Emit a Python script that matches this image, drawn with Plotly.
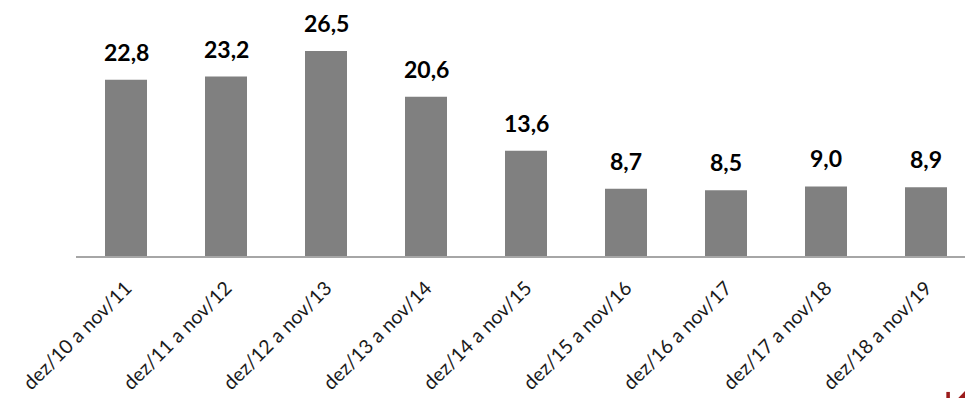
import plotly.graph_objects as go

categories = ["dez/10 a nov/11", "dez/11 a nov/12", "dez/12 a nov/13", "dez/13 a nov/14",
              "dez/14 a nov/15", "dez/15 a nov/16", "dez/16 a nov/17", "dez/17 a nov/18",
              "dez/18 a nov/19"]
values = [22.8, 23.2, 26.5, 20.6, 13.6, 8.7, 8.5, 9.0, 8.9]
labels = [f"{v:.1f}".replace(".", ",") for v in values]

fig = go.Figure()
fig.add_trace(go.Bar(
    x=list(range(len(categories))), y=values,
    marker=dict(color="#808080", line=dict(width=0)),
    width=0.42, hoverinfo="skip",
))

for i, (v, t) in enumerate(zip(values, labels)):
    fig.add_annotation(x=i, y=v, text=f"<b>{t}</b>", showarrow=False,
                       yanchor="bottom", yshift=12,
                       font=dict(family="Lato", size=23, color="#000000"))

# cropped logo fragment at bottom-right corner
fig.add_shape(type="path", xref="paper", yref="paper",
              path="M 0.979 -0.531 L 0.983 -0.531 L 0.983 -0.56 L 0.979 -0.56 Z",
              fillcolor="#9b1c1c", line=dict(width=0), layer="above")
fig.add_shape(type="path", xref="paper", yref="paper",
              path="M 0.991 -0.56 L 1.0 -0.527 L 1.0 -0.56 Z",
              fillcolor="#9b1c1c", line=dict(width=0), layer="above")

fig.update_layout(
    width=965, height=398,
    margin=dict(l=76, r=0, t=0, b=142, autoexpand=False),
    plot_bgcolor="white", paper_bgcolor="white",
    showlegend=False,
    xaxis=dict(
        tickmode="array", tickvals=list(range(len(categories))), ticktext=categories,
        range=[-0.5, 8.39], tickangle=-45, automargin=False,
        tickfont=dict(family="Lato", size=19.5, color="#1a1a1a"),
        ticklabelstandoff=11,
        showline=True, linecolor="#a6a6a6", linewidth=2,
        showgrid=False, zeroline=False, ticks="",
    ),
    yaxis=dict(range=[0, 33.1], visible=False, showgrid=False, zeroline=False,
               automargin=False),
)

fig.write_html("out.html")
